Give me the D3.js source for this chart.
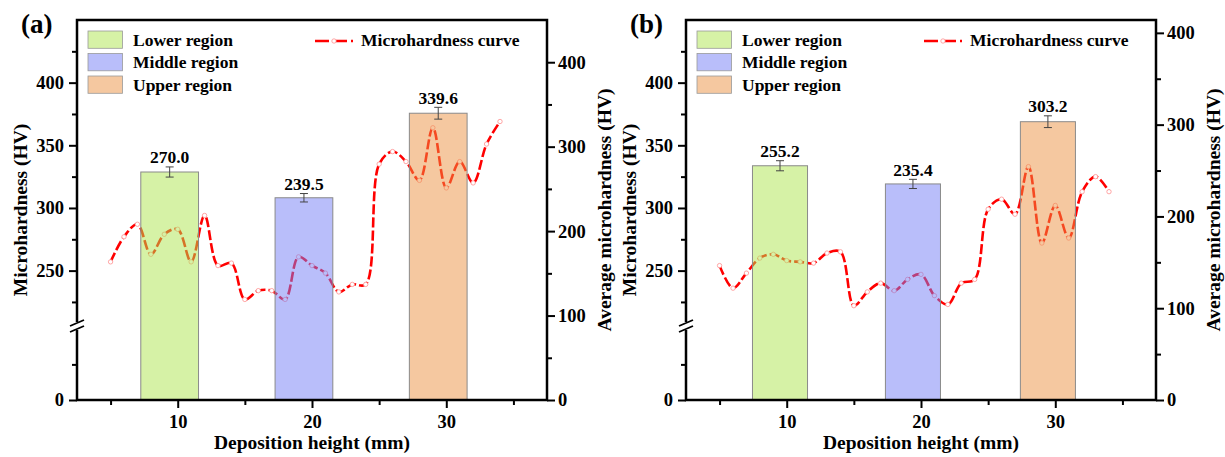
<!DOCTYPE html>
<html>
<head>
<meta charset="utf-8">
<script src="https://cdn.jsdelivr.net/npm/d3@7"></script>
<style>
	body { margin: 0; background: #fff; }
</style>
</head>
<body>
<svg id="viz"></svg>
<script>
// Values
const depthX = [5, 6, 7, 8, 9, 10, 11, 12, 13, 14, 15, 16, 17, 18, 19, 20, 21, 22, 23, 24, 25, 26, 27, 28, 29, 30, 31, 32, 33, 34];
const hardnessA = [257, 277, 287, 263, 279, 283, 257, 294, 254, 256, 227, 234, 234, 227, 261, 254, 248, 233, 239, 239, 335, 345, 337, 322, 364, 316, 337, 320, 351, 369];
const hardnessB = [254, 236, 248, 260, 263, 258, 257, 256, 264, 265, 222, 233, 240, 234, 243, 247, 230, 223, 240, 243, 299, 307, 295, 333, 272, 302, 276, 313, 325, 313];

const regions = ["Lower region", "Middle region", "Upper region"];
const barXA = [9.4, 19.4, 29.4];
const barXB = [9.5, 19.4, 29.45];
const avgA = [270.0, 239.5, 339.6];
const avgB = [255.2, 235.4, 303.2];
const errA = [6, 5, 7];
const errB = [5.5, 5, 6.4];

const xTicks = [10, 20, 30];
const xMinorTicks = [5, 15, 25, 35];
const leftTicks = [0, 250, 300, 350, 400];
const leftMinorTicks = [100, 225, 275, 325, 375, 425];
const rightTicks = [0, 100, 200, 300, 400];
const rightMinorTicks = [50, 150, 250, 350];

const regionColors = ["#ade54d", "#737df5", "#eb9141"];

const FONT = "'Liberation Serif', 'Times New Roman', 'DejaVu Serif', serif";

const width = 1225;
const height = 457;
const plotWidth = 470;
const plotHeight = 380;
const plotTop = 20;

const svg = d3.select("svg#viz")
	.attr("width", width)
	.attr("height", height);

drawPanel({ left: 77, label: "(a)", hardness: hardnessA, barX: barXA, avg: avgA, err: errA, rightMax: 450, barWidth: 4.3 });
drawPanel({ left: 686, label: "(b)", hardness: hardnessB, barX: barXB, avg: avgB, err: errB, rightMax: 414, barWidth: 4.1 });

// every label in bold Times-like serif
svg.selectAll("text")
	.attr("font-family", null)
	.style("font-family", FONT)
	.style("font-weight", "bold")
	.style("fill", "#000");

function drawPanel(p) {
	const g = svg.append("g").attr("transform", translate(p.left, plotTop));

	const x = d3.scaleLinear().domain([2.5, 37.5]).range([0, plotWidth]);
	// broken left axis: 0-205 squeezed, 205-450 stretched
	const yLeft = d3.scaleLinear().domain([0, 205, 450]).range([plotHeight, 307, 0]);
	const yRight = d3.scaleLinear().domain([0, p.rightMax]).range([plotHeight, 0]);

	// curve (under the translucent bars)
	const line = d3.line()
		.x((d, i) => x(depthX[i]))
		.y(d => yLeft(d))
		.curve(d3.curveCatmullRom.alpha(0.5));

	g.append("path")
		.datum(p.hardness)
		.attr("fill", "none")
		.attr("stroke", "#ff0000")
		.attr("stroke-width", 2.6)
		.attr("stroke-dasharray", "10,3")
		.attr("d", line);

	g.append("g").selectAll("circle")
		.data(p.hardness)
		.join("circle")
		.attr("cx", (d, i) => x(depthX[i]))
		.attr("cy", d => yLeft(d))
		.attr("r", 2.2)
		.attr("fill", "#fff")
		.attr("stroke", "#ff9090")
		.attr("stroke-width", 0.8);

	// bars
	g.append("g").selectAll("rect")
		.data(p.avg)
		.join("rect")
		.attr("x", (d, i) => x(p.barX[i] - p.barWidth / 2))
		.attr("width", x(p.barWidth) - x(0))
		.attr("y", d => yRight(d))
		.attr("height", d => plotHeight - yRight(d))
		.attr("fill", (d, i) => regionColors[i])
		.attr("fill-opacity", 0.5)
		.attr("stroke", "#8a8a8a")
		.attr("stroke-width", 1);

	// error bars + value labels
	const eb = g.append("g").attr("stroke", "#444").attr("stroke-width", 1);
	p.avg.forEach(function(d, i) {
		const cx = x(p.barX[i]);
		const y0 = yRight(d - p.err[i]);
		const y1 = yRight(d + p.err[i]);
		eb.append("line").attr("x1", cx).attr("x2", cx).attr("y1", y0).attr("y2", y1);
		eb.append("line").attr("x1", cx - 4).attr("x2", cx + 4).attr("y1", y0).attr("y2", y0);
		eb.append("line").attr("x1", cx - 4).attr("x2", cx + 4).attr("y1", y1).attr("y2", y1);
		g.append("text")
			.attr("x", cx)
			.attr("y", y1 - 3.5)
			.attr("text-anchor", "middle")
			.style("font-size", "17.5px")
			.text(d.toFixed(1));
	});

	// axes
	g.append("g").attr("transform", translate(0, plotHeight))
		.call(d3.axisBottom(x).tickValues(xTicks).tickSize(8).tickPadding(7));
	g.append("g").attr("transform", translate(0, plotHeight))
		.call(d3.axisBottom(x).tickValues(xMinorTicks).tickSize(5).tickFormat(""));

	g.append("g")
		.call(d3.axisLeft(yLeft).tickValues(leftTicks).tickSize(8).tickPadding(5));
	g.append("g")
		.call(d3.axisLeft(yLeft).tickValues(leftMinorTicks).tickSize(5).tickFormat(""));

	g.append("g").attr("transform", translate(plotWidth, 0))
		.call(d3.axisRight(yRight).tickValues(rightTicks).tickSize(8).tickPadding(3));
	g.append("g").attr("transform", translate(plotWidth, 0))
		.call(d3.axisRight(yRight).tickValues(rightMinorTicks).tickSize(5).tickFormat(""));

	g.selectAll(".domain").remove();
	g.selectAll(".tick line").attr("stroke", "#000").attr("stroke-width", 2);
	g.selectAll(".tick text").style("font-size", "18.5px");

	// frame
	g.append("rect")
		.attr("width", plotWidth)
		.attr("height", plotHeight)
		.attr("fill", "none")
		.attr("stroke", "#000")
		.attr("stroke-width", 2.5);

	// axis break marks
	const by = 306;
	g.append("rect").attr("x", -3).attr("y", by - 4).attr("width", 6).attr("height", 8).attr("fill", "#fff");
	[-3, 3].forEach(function(off) {
		g.append("line")
			.attr("x1", -7).attr("y1", by + off + 3)
			.attr("x2", 7).attr("y2", by + off - 3)
			.attr("stroke", "#000").attr("stroke-width", 1.8);
	});

	// titles
	svg.append("text")
		.attr("transform", translate(p.left - 50.5, plotTop + plotHeight / 2) + " rotate(-90)")
		.attr("text-anchor", "middle")
		.style("font-size", "19.5px")
		.text("Microhardness (HV)");

	svg.append("text")
		.attr("transform", translate(p.left + plotWidth + 63.5, plotTop + plotHeight / 2) + " rotate(-90)")
		.attr("text-anchor", "middle")
		.style("font-size", "19.5px")
		.text("Average microhardness (HV)");

	g.append("text")
		.attr("x", plotWidth / 2)
		.attr("y", plotHeight + 49)
		.attr("text-anchor", "middle")
		.style("font-size", "19.5px")
		.text("Deposition height (mm)");

	svg.append("text")
		.attr("x", p.left - 56)
		.attr("y", 32.5)
		.style("font-size", "27px")
		.text(p.label);

	// legend
	const legend = g.append("g").attr("transform", translate(11, 11));
	regions.forEach(function(r, i) {
		legend.append("rect")
			.attr("y", i * 22.5)
			.attr("width", 34.5)
			.attr("height", 17.3)
			.attr("fill", regionColors[i])
			.attr("fill-opacity", 0.5)
			.attr("stroke", "#9a9a9a")
			.attr("stroke-width", 0.8);
		legend.append("text")
			.attr("x", 45)
			.attr("y", i * 22.5 + 14.7)
			.style("font-size", "17.5px")
			.text(r);
	});

	const lineLegend = g.append("g").attr("transform", translate(238, 21));
	lineLegend.append("line")
		.attr("x1", 0).attr("x2", 38)
		.attr("stroke", "#ff0000")
		.attr("stroke-width", 2.6)
		.attr("stroke-dasharray", "14,4");
	lineLegend.append("circle")
		.attr("cx", 19).attr("r", 2.2)
		.attr("fill", "#fff").attr("stroke", "#ff9090").attr("stroke-width", 0.8);
	lineLegend.append("text")
		.attr("x", 46)
		.attr("y", 4.7)
		.style("font-size", "17.5px")
		.text("Microhardness curve");
}

//Helper
function translate(x, y) {
	return 'translate(' + x + ',' + y + ')';
}
</script>
</body>
</html>
